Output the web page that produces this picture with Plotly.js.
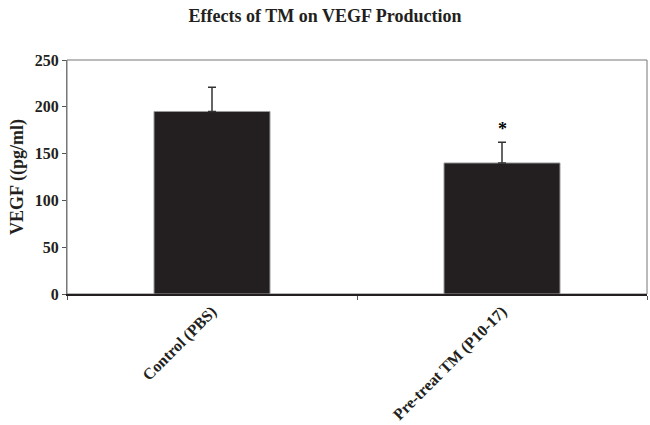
<!DOCTYPE html>
<html>
<head>
<meta charset="utf-8">
<script src="https://cdn.plot.ly/plotly-3.0.1.min.js"></script>
<style>html,body{margin:0;padding:0;background:#fff;}#chart{width:650px;height:425px;}</style>
</head>
<body>
<div id="chart"></div>
<script>
const categories = ["Control (PBS)", "Pre-treat TM (P10-17)"];
const vegfMeans = [195, 140];
const vegfErrors = [26, 22];
const significance = ["", "*"];
const yTicks = [0, 50, 100, 150, 200, 250];

const serif = "Liberation Serif, Times New Roman, serif";

const trace = {
  type: "bar",
  x: categories,
  y: vegfMeans,
  width: 0.4,
  marker: {color: "#231f20", line: {color: "#9a9a9a", width: 1}},
  error_y: {type: "data", array: vegfErrors, symmetric: false, arrayminus: [0, 0], color: "#333333", thickness: 1.5, width: 4},
  hoverinfo: "none"
};

const annotations = [];
categories.forEach((c, i) => {
  if (significance[i]) {
    annotations.push({
      x: c, y: vegfMeans[i] + vegfErrors[i], xref: "x", yref: "y",
      text: "<b>" + significance[i] + "</b>", showarrow: false, yanchor: "bottom", yshift: 1,
      font: {family: serif, size: 18, color: "#000000"}
    });
  }
});

const layout = {
  width: 650, height: 425,
  margin: {l: 67, r: 3, t: 60, b: 131},
  paper_bgcolor: "#fff", plot_bgcolor: "#fff",
  showlegend: false,
  title: {text: "<b>Effects of TM on VEGF Production</b>", x: 0.5, xanchor: "center", y: 0.962, yanchor: "middle",
          font: {family: serif, size: 18, color: "#231f20"}},
  xaxis: {
    type: "category", range: [-0.5, 1.5],
    showline: true, linecolor: "#231f20", linewidth: 2,
    ticks: "outside", tickson: "boundaries", ticklen: 4, tickcolor: "#555",
    tickangle: -45, showgrid: false, zeroline: false,
    tickfont: {family: serif, size: 16, color: "#231f20", weight: "bold"}
  },
  yaxis: {
    range: [0, 250], tickvals: yTicks, ticktext: yTicks.map(String),
    showline: true, linecolor: "#777", linewidth: 1,
    ticks: "outside", ticklen: 4, tickcolor: "#555",
    showgrid: false, zeroline: false,
    tickfont: {family: serif, size: 16, color: "#231f20", weight: "bold"},
    title: {text: "<b>VEGF ((pg/ml)</b>", font: {family: serif, size: 18, color: "#231f20"}, standoff: 6}
  },
  shapes: [{type: "rect", xref: "paper", yref: "paper", x0: 0, x1: 1, y0: 0, y1: 1, line: {color: "#777", width: 1}, layer: "below"}],
  annotations: annotations
};

Plotly.newPlot("chart", [trace], layout, {staticPlot: true, displayModeBar: false});
</script>
</body>
</html>
